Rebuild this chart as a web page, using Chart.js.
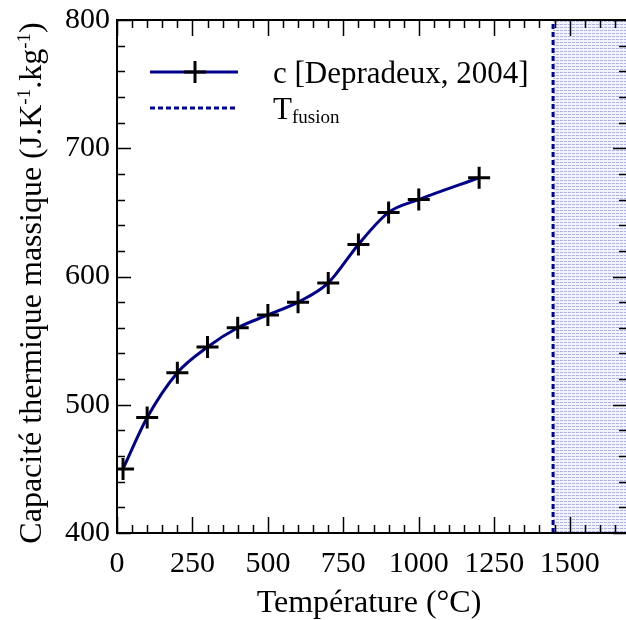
<!DOCTYPE html>
<html>
<head>
<meta charset="utf-8">
<script src="https://cdn.jsdelivr.net/npm/chart.js@4.4.3/dist/chart.umd.min.js"></script>
<style>
  html,body{margin:0;padding:0;background:#fff;overflow:hidden}
  #wrap{width:626px;height:620px;position:relative;overflow:hidden}
</style>
</head>
<body>
<div id="wrap"><canvas id="c" width="641" height="620"></canvas></div>
<script>
// données
const temperatures = [20, 100, 200, 300, 400, 500, 600, 700, 800, 900, 1000, 1200];
const capacite     = [450, 490, 525, 545, 560, 570, 580, 595, 625, 650, 660, 677];
const tFusion = 1445;
const xRange = [0, 1690];
const yRange = [400, 800];
const xTickLabels = [0, 250, 500, 750, 1000, 1250, 1500];
const yTickLabels = [400, 500, 600, 700, 800];

const SERIF = '"Liberation Serif", "Times New Roman", serif';
const NAVY = '#00008b';
const DASHBLUE = '#0000a0';

// motif pointillé de la zone fondue
function makePattern(){
  const t = document.createElement('canvas'); t.width = 4; t.height = 3;
  const g = t.getContext('2d');
  g.fillStyle = '#f2f3fc'; g.fillRect(0,0,4,3);
  g.fillStyle = '#aeb3e4'; g.fillRect(0,0,3,1);
  return g.createPattern(t, 'repeat');
}

// cadre, graduations internes, titres et légende
const decor = {
  id: 'decor',
  afterDraw(chart){
    const {ctx, chartArea:a, scales:{x, y}} = chart;
    ctx.save();
    ctx.strokeStyle = '#000'; ctx.lineWidth = 2;
    ctx.strokeRect(a.left, a.top, a.right - a.left, a.bottom - a.top);
    ctx.lineWidth = 1.5;
    ctx.beginPath();
    for(let v = xRange[0]; v <= xRange[1]; v += 50){
      const px = Math.round(x.getPixelForValue(v)) + .5;
      const L = v % 250 === 0 ? 16 : 8;
      ctx.moveTo(px, a.bottom); ctx.lineTo(px, a.bottom - L);
      ctx.moveTo(px, a.top); ctx.lineTo(px, a.top + L);
    }
    for(let v = yRange[0]; v <= yRange[1]; v += 20){
      const py = Math.round(y.getPixelForValue(v)) + .5;
      const L = v % 100 === 0 ? 14 : 8;
      ctx.moveTo(a.left, py); ctx.lineTo(a.left + L, py);
      ctx.moveTo(a.right, py); ctx.lineTo(a.right - L, py);
    }
    ctx.stroke();

    // titre axe x
    ctx.fillStyle = '#000';
    ctx.font = '32px ' + SERIF;
    ctx.textAlign = 'center'; ctx.textBaseline = 'middle';
    ctx.fillText('Température (°C)', 369, 604);

    // titre axe y avec exposants
    ctx.save();
    ctx.translate(30, 283);
    ctx.rotate(-Math.PI / 2);
    const parts = [['Capacité thermique massique (J.K', 0], ['-1', 1], ['.kg', 0], ['-1', 1], [')', 0]];
    const big = '32px ' + SERIF, small = '19px ' + SERIF;
    let w = 0;
    parts.forEach(([s, sup]) => { ctx.font = sup ? small : big; w += ctx.measureText(s).width; });
    let cx = -w / 2;
    ctx.textAlign = 'left'; ctx.textBaseline = 'alphabetic';
    parts.forEach(([s, sup]) => {
      ctx.font = sup ? small : big;
      ctx.fillText(s, cx, sup ? 0 : 11);
      cx += ctx.measureText(s).width;
    });
    ctx.restore();

    // légende
    ctx.lineWidth = 3; ctx.strokeStyle = NAVY;
    ctx.beginPath(); ctx.moveTo(150, 72); ctx.lineTo(238, 72); ctx.stroke();
    ctx.strokeStyle = '#000';
    ctx.beginPath();
    ctx.moveTo(184, 72); ctx.lineTo(206, 72);
    ctx.moveTo(195, 61); ctx.lineTo(195, 83);
    ctx.stroke();
    ctx.strokeStyle = DASHBLUE; ctx.setLineDash([5, 3]);
    ctx.beginPath(); ctx.moveTo(150, 108); ctx.lineTo(238, 108); ctx.stroke();
    ctx.setLineDash([]);
    ctx.font = '31px ' + SERIF; ctx.textAlign = 'left'; ctx.textBaseline = 'alphabetic';
    ctx.fillText('c [Depradeux, 2004]', 273, 83);
    ctx.fillText('T', 273, 119);
    const tw = ctx.measureText('T').width;
    ctx.font = '19px ' + SERIF;
    ctx.fillText('fusion', 273 + tw, 123);
    ctx.restore();
  }
};

const mesures = temperatures.map((t, i) => ({x: t, y: capacite[i]}));

new Chart(document.getElementById('c').getContext('2d'), {
  type: 'scatter',
  data: {
    datasets: [
      {
        label: 'zone fondue',
        data: [{x: tFusion, y: yRange[1]}, {x: xRange[1], y: yRange[1]}],
        showLine: true, fill: 'start', backgroundColor: makePattern(),
        borderWidth: 0, pointRadius: 0, order: 3
      },
      {
        label: 'Tfusion',
        data: [{x: tFusion, y: yRange[0]}, {x: tFusion, y: yRange[1]}],
        showLine: true, borderColor: DASHBLUE, borderWidth: 3, borderDash: [5, 3],
        pointRadius: 0, order: 2
      },
      {
        label: 'c [Depradeux, 2004]',
        data: mesures,
        showLine: true, borderColor: NAVY, borderWidth: 3,
        cubicInterpolationMode: 'monotone',
        pointStyle: 'cross', pointRadius: 11, pointBorderColor: '#000', pointBorderWidth: 3,
        order: 1
      }
    ]
  },
  options: {
    responsive: false,
    animation: false,
    layout: {padding: {top: 20, right: 0, left: 0, bottom: 0}},
    plugins: {legend: {display: false}, tooltip: {enabled: false}},
    scales: {
      x: {
        type: 'linear', min: xRange[0], max: xRange[1],
        grid: {display: false, drawTicks: false}, border: {display: false},
        afterBuildTicks: s => { s.ticks = xTickLabels.map(v => ({value: v})); },
        afterFit: s => { s.height = 87; s.paddingLeft = 0; s.paddingRight = 0; },
        ticks: {color: '#000', font: {family: SERIF, size: 30}, padding: 13, maxRotation: 0,
                callback: v => String(v)}
      },
      y: {
        type: 'linear', min: yRange[0], max: yRange[1],
        grid: {display: false, drawTicks: false}, border: {display: false},
        afterBuildTicks: s => { s.ticks = yTickLabels.map(v => ({value: v})); },
        afterFit: s => { s.width = 117; s.paddingTop = 0; s.paddingBottom = 0; },
        ticks: {color: '#000', font: {family: SERIF, size: 30}, padding: 7,
                callback: v => String(v)}
      }
    }
  },
  plugins: [decor]
});
</script>
</body>
</html>
